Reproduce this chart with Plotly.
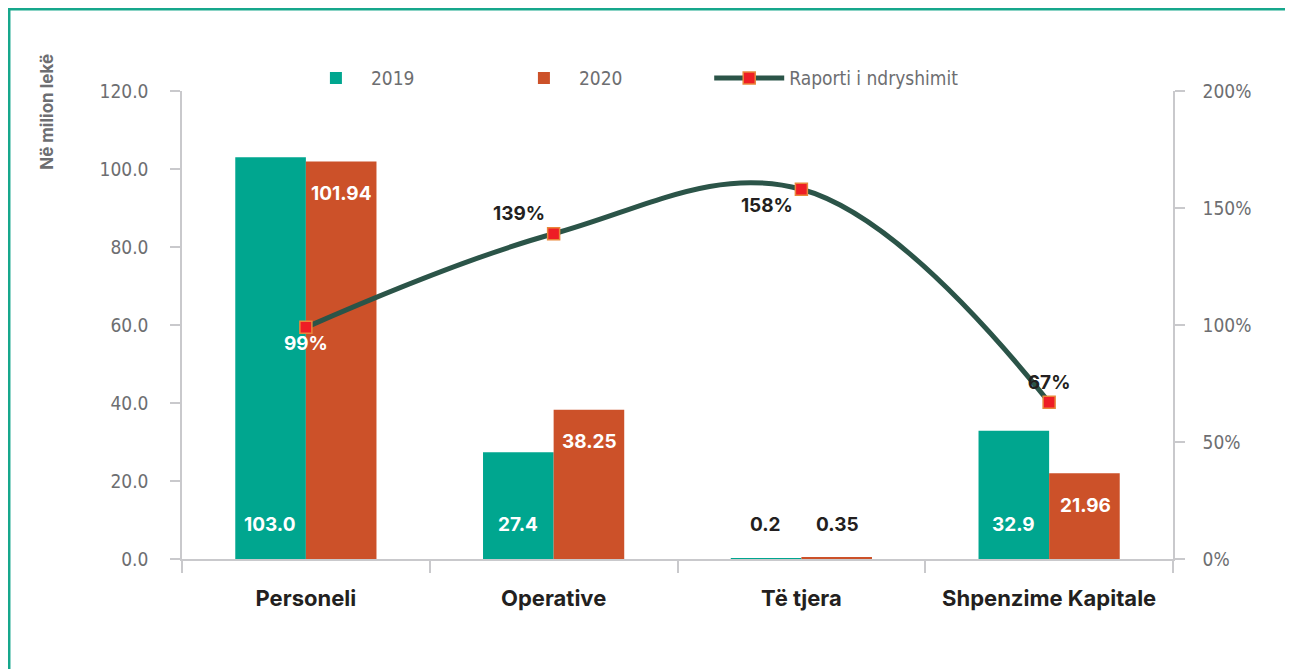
import plotly.graph_objects as go

categories = ["Personeli", "Operative", "Të tjera", "Shpenzime Kapitale"]
values_2019 = [103.0, 27.4, 0.2, 32.9]
values_2020 = [101.94, 38.25, 0.35, 21.96]
ratio_pct = [99, 139, 158, 67]
labels_2019 = ["103.0", "27.4", "0.2", "32.9"]
labels_2020 = ["101.94", "38.25", "0.35", "21.96"]
y_ticks = [0, 20, 40, 60, 80, 100, 120]
y2_ticks = [0, 50, 100, 150, 200]

TEAL = "#00a68f"
ORANGE = "#cc5129"
LINE = "#2b5448"
GRAY = "#6d6e71"
AXIS = "#c9c9cc"
DARK = "#231f20"
COND = "DejaVu Sans Condensed, DejaVu Sans, sans-serif"
BOLD = "Inter, Lato, Noto Sans, sans-serif"

small = [v < 5 for v in values_2020]

fig = go.Figure()
fig.add_trace(go.Bar(
    x=categories, y=values_2019, name="2019", marker=dict(color=TEAL, line=dict(width=0)),
    hoverinfo="x+y",
))
fig.add_trace(go.Bar(
    x=categories, y=values_2020, name="2020", marker=dict(color=ORANGE, line=dict(width=0)),
    hoverinfo="x+y",
))
fig.add_trace(go.Scatter(
    x=categories, y=ratio_pct, name="Raporti i ndryshimit", yaxis="y2", legend="legend2",
    mode="lines+markers+text",
    line=dict(color=LINE, width=5, shape="spline", smoothing=1.1),
    marker=dict(symbol="square", size=12, color="#ee1d25", line=dict(color="#e9873b", width=1.5)),
    text=[f"{v}%" for v in ratio_pct],
    textposition=["bottom center", "top left", "bottom left", "top center"],
    textfont=dict(family=BOLD, size=19, weight="bold", color=["white", DARK, DARK, DARK]),
))

# bar value labels
for i, cat in enumerate(categories):
    fig.add_annotation(x=cat, y=0, text=labels_2019[i], showarrow=False,
                       xshift=-36, yshift=35,
                       font=dict(family=BOLD, size=19, weight="bold",
                                 color=DARK if small[i] else "white"))
    fig.add_annotation(x=cat, y=0 if small[i] else values_2020[i], text=labels_2020[i], showarrow=False,
                       xshift=36, yshift=35 if small[i] else -32,
                       font=dict(family=BOLD, size=19, weight="bold",
                                 color=DARK if small[i] else "white"))

fig.add_annotation(xref="paper", yref="paper", x=-0.1365, y=0.955, text="<b>Në milion lekë</b>",
                   textangle=-90, showarrow=False, xanchor="center", yanchor="middle",
                   font=dict(family=BOLD, size=17, color=GRAY))

fig.add_shape(type="rect", xref="paper", yref="paper", x0=-0.1746, x1=1.1185, y0=-0.3, y1=1.175,
              line=dict(color="#16a78c", width=3), fillcolor="rgba(0,0,0,0)", layer="below")

legend_font = dict(family=COND, size=19, color=GRAY)

fig.update_layout(
    width=1293, height=669,
    margin=dict(l=174, r=128, t=83, b=118),
    paper_bgcolor="white", plot_bgcolor="white",
    barmode="group", bargap=0.43, bargroupgap=0,
    showlegend=True,
    legend=dict(orientation="h", x=0.12, y=1.068, xanchor="left", yanchor="top",
                entrywidth=133, entrywidthmode="pixels", itemwidth=60,
                font=legend_font, bgcolor="rgba(0,0,0,0)"),
    legend2=dict(orientation="h", x=0.532, y=1.068, xanchor="left", yanchor="top",
                 itemwidth=70, font=legend_font, bgcolor="rgba(0,0,0,0)"),
    xaxis=dict(showline=True, linecolor=AXIS, linewidth=1.5, ticks="outside", tickson="boundaries",
               ticklen=12, tickcolor=AXIS, tickwidth=1.5, showgrid=False, zeroline=False,
               tickfont=dict(family=BOLD, size=22, color=DARK, weight="bold"), ticklabelstandoff=19),
    yaxis=dict(range=[0, 120], tickvals=y_ticks, ticktext=[f"{v:.1f}" for v in y_ticks],
               showline=True, linecolor=AXIS, linewidth=1.5, ticks="outside", ticklen=10,
               tickcolor=AXIS, tickwidth=1.5, showgrid=False, zeroline=False,
               tickfont=dict(family=COND, size=19, color=GRAY), ticklabelstandoff=18),
    yaxis2=dict(range=[0, 200], tickvals=y2_ticks, ticktext=[f"{v}%" for v in y2_ticks],
                overlaying="y", side="right", showline=True, linecolor=AXIS, linewidth=1.5,
                ticks="outside", ticklen=10, tickcolor=AXIS, tickwidth=1.5, showgrid=False,
                zeroline=False, tickfont=dict(family=COND, size=19, color=GRAY),
                ticklabelstandoff=14),
)

fig.write_html("out.html")
